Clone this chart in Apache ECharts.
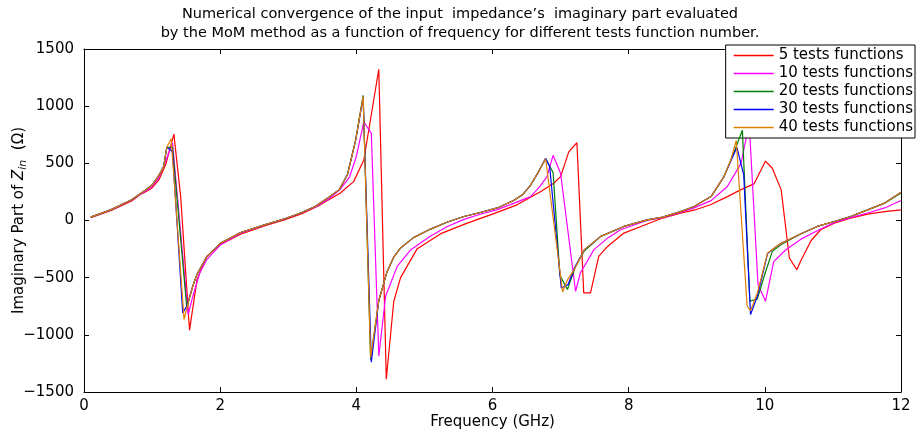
<!DOCTYPE html>
<html><head><meta charset="utf-8">
<script src="https://cdn.jsdelivr.net/npm/echarts@6/dist/echarts.min.js"></script>
<style>html,body{margin:0;padding:0;background:#fff}#c{width:920px;height:441px}</style>
</head><body><div id="c"></div>
<script>
const titleText = 'Numerical convergence of the input  impedance\u2019s  imaginary part evaluated\nby the MoM method as a function of frequency for different tests function number.';
const seriesNames = ['5 tests functions','10 tests functions','20 tests functions','30 tests functions','40 tests functions'];
const seriesColors = ['#ff0000','#ff00ff','#007f00','#0000ff','#e08000'];
const xRange = [0, 12, 2];
const yRange = [-1500, 1500, 500];

// [frequency GHz, Im(Zin) ohm]
const tests5 = [[0.1,25],[0.4,88],[0.7,170],[0.82,225],[0.9,250],[1.0,285],[1.1,355],[1.2,490],[1.32,756],[1.42,209],[1.55,-959],[1.66,-517],[1.8,-314],[2.0,-212],[2.3,-120],[2.65,-48],[2.95,8],[3.2,60],[3.47,137],[3.76,239],[3.96,340],[4.11,529],[4.33,1323],[4.44,-1389],[4.55,-706],[4.65,-500],[4.89,-250],[5.24,-115],[5.63,-23],[6.02,60],[6.36,137],[6.71,253],[6.9,326],[7.0,384],[7.12,600],[7.24,680],[7.34,-633],[7.44,-633],[7.56,-314],[7.69,-227],[7.93,-110],[8.18,-52],[8.47,15],[8.76,65],[8.96,90],[9.21,140],[9.45,209],[9.65,270],[9.84,320],[10.01,520],[10.11,457],[10.24,268],[10.36,-328],[10.47,-430],[10.53,-350],[10.68,-175],[10.82,-81],[11.02,-23],[11.26,21],[11.51,56],[11.76,78],[12.0,93]];
const tests10 = [[0.1,30],[0.4,93],[0.7,178],[0.82,228],[0.9,255],[1.0,295],[1.1,375],[1.2,520],[1.30,680],[1.53,-822],[1.6,-660],[1.7,-460],[1.8,-345],[2.0,-215],[2.3,-112],[2.65,-40],[2.95,15],[3.2,68],[3.4,118],[3.6,190],[3.76,270],[3.9,380],[4.0,560],[4.11,864],[4.22,762],[4.33,-1186],[4.43,-663],[4.6,-401],[4.8,-255],[5.09,-135],[5.33,-55],[5.58,10],[5.82,55],[6.07,95],[6.31,150],[6.56,209],[6.7,300],[6.80,384],[6.89,570],[7.0,413],[7.22,-619],[7.29,-459],[7.49,-255],[7.7,-150],[7.88,-81],[8.27,0],[8.5,25],[8.76,70],[8.96,110],[9.21,174],[9.45,297],[9.65,500],[9.77,850],[9.9,-560],[10.01,-706],[10.13,-360],[10.3,-260],[10.53,-163],[10.77,-90],[11.02,-17],[11.26,25],[11.51,66],[11.76,110],[12.0,175]];
const tests20 = [[0.1,30],[0.4,95],[0.7,182],[0.82,232],[0.9,265],[1.0,310],[1.1,395],[1.17,471],[1.216,640],[1.30,640],[1.51,-764],[1.6,-570],[1.66,-470],[1.8,-320],[2.0,-200],[2.3,-105],[2.65,-38],[2.95,15],[3.2,70],[3.4,125],[3.6,205],[3.75,270],[3.87,405],[3.99,705],[4.1,1095],[4.21,-1215],[4.33,-700],[4.45,-450],[4.55,-320],[4.65,-240],[4.84,-150],[5.09,-75],[5.33,-15],[5.58,35],[5.82,70],[6.07,110],[6.31,175],[6.45,230],[6.56,310],[6.68,430],[6.78,540],[6.89,420],[6.99,-480],[7.10,-604],[7.22,-401],[7.35,-265],[7.59,-139],[7.93,-52],[8.27,6],[8.5,30],[8.76,78],[8.96,122],[9.21,209],[9.4,384],[9.55,600],[9.67,790],[9.78,-706],[9.89,-686],[9.99,-488],[10.11,-270],[10.24,-210],[10.53,-116],[10.77,-52],[11.02,-9],[11.26,35],[11.51,93],[11.76,152],[12.0,240]];
const tests30 = [[0.1,30],[0.4,95],[0.7,182],[0.82,232],[0.9,265],[1.0,310],[1.1,395],[1.17,471],[1.216,640],[1.30,602],[1.45,-808],[1.51,-750],[1.6,-570],[1.66,-470],[1.8,-320],[2.0,-200],[2.3,-105],[2.65,-38],[2.95,15],[3.2,70],[3.4,125],[3.6,205],[3.75,270],[3.87,400],[3.99,700],[4.1,1075],[4.22,-1240],[4.33,-700],[4.45,-450],[4.55,-320],[4.65,-240],[4.84,-150],[5.09,-75],[5.33,-15],[5.58,35],[5.82,70],[6.07,110],[6.31,175],[6.45,230],[6.56,310],[6.68,430],[6.78,545],[6.84,470],[7.01,-590],[7.11,-560],[7.2,-420],[7.35,-255],[7.59,-139],[7.93,-52],[8.27,6],[8.5,30],[8.76,78],[8.96,122],[9.21,209],[9.4,384],[9.5,520],[9.59,640],[9.69,399],[9.79,-822],[9.89,-663],[10.04,-290],[10.14,-241],[10.24,-200],[10.53,-116],[10.77,-52],[11.02,-9],[11.26,35],[11.51,93],[11.76,152],[12.0,248]];
const tests40 = [[0.1,30],[0.4,95],[0.7,182],[0.82,232],[0.9,265],[1.0,310],[1.1,395],[1.17,471],[1.216,640],[1.28,715],[1.47,-866],[1.53,-720],[1.6,-570],[1.66,-470],[1.8,-320],[2.0,-200],[2.3,-105],[2.65,-38],[2.95,15],[3.2,70],[3.4,125],[3.6,205],[3.75,270],[3.87,400],[3.99,700],[4.1,1085],[4.21,-1200],[4.33,-700],[4.45,-450],[4.55,-320],[4.65,-240],[4.84,-150],[5.09,-75],[5.33,-15],[5.58,35],[5.82,70],[6.07,110],[6.31,175],[6.45,230],[6.56,310],[6.68,430],[6.78,540],[7.03,-625],[7.1,-520],[7.2,-430],[7.35,-255],[7.59,-139],[7.93,-52],[8.27,6],[8.5,30],[8.76,78],[8.96,122],[9.21,209],[9.4,384],[9.5,530],[9.58,700],[9.74,-750],[9.79,-790],[9.89,-633],[10.04,-284],[10.14,-241],[10.24,-200],[10.53,-116],[10.77,-52],[11.02,-9],[11.26,35],[11.51,93],[11.76,152],[12.0,248]];
const allData = [tests5, tests10, tests20, tests30, tests40];

const FONT = 'DejaVu Sans';
const FS = 15;
const chart = echarts.init(document.getElementById('c'), null, {renderer: 'canvas'});
const fmtY = v => String(v).replace('-', '\u2212');
const axisCommon = {
  axisLine: {show: true, onZero: false, lineStyle: {color: '#000', width: 1}},
  axisTick: {show: true, inside: true, length: 5, lineStyle: {color: '#000'}},
  splitLine: {show: false}
};
chart.setOption({
  animation: false,
  backgroundColor: '#fff',
  title: {
    text: titleText, left: 'center', top: 0,
    textStyle: {fontFamily: FONT, fontSize: 14.5, fontWeight: 'normal', color: '#000', lineHeight: 19}
  },
  grid: {left: 84, right: 19, top: 49, bottom: 49, show: false, containLabel: false, outerBoundsMode: 'none'},
  legend: {
    orient: 'vertical', right: 5, top: 45,
    backgroundColor: '#fff', borderColor: '#000', borderWidth: 1,
    padding: [3, 2, 3, 8], itemGap: 3, itemWidth: 40, itemHeight: 1.5, icon: 'rect',
    textStyle: {fontFamily: FONT, fontSize: FS, color: '#000', lineHeight: 14},
    data: seriesNames
  },
  xAxis: [
    Object.assign({type: 'value', min: xRange[0], max: xRange[1], interval: xRange[2], position: 'bottom',
      name: 'Frequency (GHz)', nameLocation: 'middle', nameGap: 23, nameMoveOverlap: false,
      nameTextStyle: {fontFamily: FONT, fontSize: FS, color: '#000', verticalAlign: 'top'},
      axisLabel: {fontFamily: FONT, fontSize: FS, color: '#000', margin: 7}}, axisCommon),
    Object.assign({type: 'value', min: xRange[0], max: xRange[1], interval: xRange[2], position: 'top',
      axisLabel: {show: false}}, axisCommon)
  ],
  yAxis: [
    Object.assign({type: 'value', min: yRange[0], max: yRange[1], interval: yRange[2], position: 'left',
      name: 'Imaginary Part of {i|Z}{s|in}  (\u03a9)', nameLocation: 'middle', nameGap: 55, nameMoveOverlap: false,
      nameTextStyle: {fontFamily: FONT, fontSize: FS, color: '#000',
        rich: {i: {fontFamily: FONT, fontSize: FS, fontStyle: 'italic', color: '#000'},
               s: {fontFamily: FONT, fontSize: 11, fontStyle: 'italic', color: '#000', padding: [8, 0, 0, 0]}}},
      axisLabel: {fontFamily: FONT, fontSize: FS, color: '#000', margin: 10, formatter: fmtY}}, axisCommon),
    Object.assign({type: 'value', min: yRange[0], max: yRange[1], interval: yRange[2], position: 'right',
      axisLabel: {show: false}}, axisCommon)
  ],
  series: allData.map((d, i) => ({
    name: seriesNames[i], type: 'line', data: d, xAxisIndex: 0, yAxisIndex: 0,
    symbol: 'none', showSymbol: false, smooth: false,
    lineStyle: {color: seriesColors[i], width: 1.2},
    itemStyle: {color: seriesColors[i]},
    emphasis: {disabled: true}, z: 2 + i
  }))
});
</script></body></html>
